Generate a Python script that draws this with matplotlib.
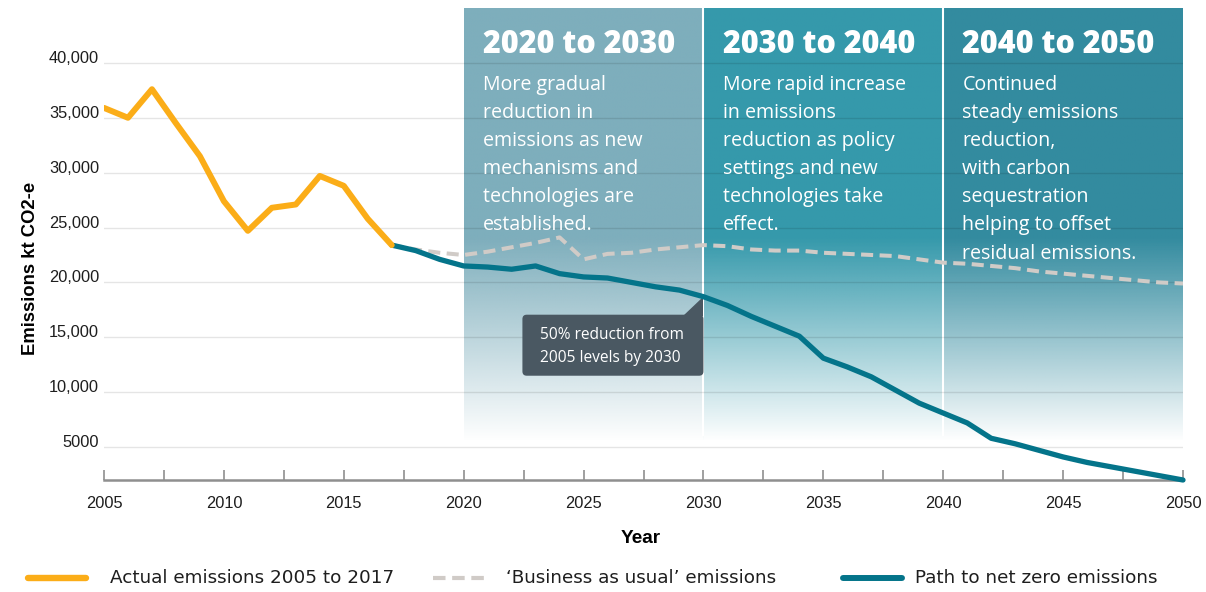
import numpy as np
import matplotlib
matplotlib.use("Agg")
import matplotlib.pyplot as plt
from matplotlib.colors import to_rgb
from matplotlib.lines import Line2D
from matplotlib.patches import FancyBboxPatch, Polygon

# emissions, kt CO2-e
actual_years = list(range(2005, 2018))
actual = [35900, 35000, 37600, 34500, 31500, 27400, 24700, 26800, 27100,
          29700, 28800, 25800, 23400]

future_years = list(range(2017, 2051))
bau = [23400, 23000, 22700, 22500, 22800, 23200, 23600, 24100, 22100, 22600,
       22700, 23000, 23200, 23400, 23300, 23000, 22900, 22900, 22700, 22600,
       22500, 22400, 22100, 21800, 21700, 21500, 21300, 21000, 20800, 20600,
       20400, 20200, 20000, 19900]
net_zero = [23400, 22900, 22100, 21500, 21400, 21200, 21500, 20800, 20500, 20400,
            20000, 19600, 19300, 18700, 17900, 16900, 16000, 15100, 13100, 12300,
            11400, 10200, 9000, 8100, 7200, 5800, 5300, 4700, 4100, 3600,
            3200, 2800, 2400, 2000]

periods = [(2020, 2030), (2030, 2040), (2040, 2050)]
period_titles = ["2020 to 2030", "2030 to 2040", "2040 to 2050"]
period_notes = [
    "More gradual\nreduction in\nemissions as new\nmechanisms and\ntechnologies are\nestablished.",
    "More rapid increase\nin emissions\nreduction as policy\nsettings and new\ntechnologies take\neffect.",
    "Continued\nsteady emissions\nreduction,\nwith carbon\nsequestration\nhelping to offset\nresidual emissions.",
]

y_ticks = [5000, 10000, 15000, 20000, 25000, 30000, 35000, 40000]
y_tick_labels = ["5000", "10,000", "15,000", "20,000", "25,000", "30,000", "35,000", "40,000"]
x_ticks = np.arange(2005, 2050.1, 2.5)
x_tick_labels = [str(int(x)) if x % 5 == 0 else "" for x in x_ticks]

legend_labels = ["Actual emissions 2005 to 2017", "\u2018Business as usual\u2019 emissions",
                 "Path to net zero emissions"]
callout_text = "50% reduction from\n2005 levels by 2030"

ORANGE = "#fbad18"
TEAL = "#04748a"
GREY = "#d0cbc7"
BOX = "#4a5862"
band_colors = ["#7eaebc", "#3599ab", "#338b9f"]

W, H = 1206, 592
YMIN, YMAX = 2000, 45000

fig = plt.figure(figsize=(W / 100, H / 100), dpi=100)
ax = fig.add_axes([104 / W, 1 - 480 / H, 1079 / W, 472 / H])

# shaded periods fading to white towards the bottom
yy = np.linspace(YMIN, YMAX, 500)
fade = np.clip((yy - 5500) / (24000 - 5500), 0, 1)
for (x0, x1), c in zip(periods, band_colors):
    rgba = np.zeros((len(yy), 1, 4))
    rgba[..., :3] = to_rgb(c)
    rgba[..., 3] = fade[:, None]
    ax.imshow(rgba, extent=(x0, x1, YMIN, YMAX), origin="lower", aspect="auto",
              interpolation="bilinear", zorder=0)
ax.vlines([2030, 2040], 6000, YMAX, colors="white", lw=1.5, zorder=1)

ax.plot(future_years, bau, color=GREY, lw=2.9, dashes=(3.0, 1.6), zorder=4)
ax.plot(future_years, net_zero, color=TEAL, lw=3.8, solid_joinstyle="round",
        solid_capstyle="round", zorder=5, clip_on=False)
ax.plot(actual_years, actual, color=ORANGE, lw=4.3, solid_joinstyle="round",
        solid_capstyle="round", zorder=6)

ax.set_xlim(2005, 2050)
ax.set_ylim(YMIN, YMAX)

for (x0, x1), title, note in zip(periods, period_titles, period_notes):
    ax.text(x0 + 0.8, 40900, title, color="white", fontsize=22, fontweight=800,
            family=["Open Sans", "DejaVu Sans"], va="baseline", ha="left", zorder=7)
    ax.text(x0 + 0.8, 38900, note, color="white", fontsize=14.1,
            family=["Open Sans", "DejaVu Sans"], va="top", ha="left",
            linespacing=1.54, zorder=7)

# callout at 2030
i2030 = future_years.index(2030)
box = FancyBboxPatch((2022.45, 11500), 2030 - 2022.45, 5560,
                     boxstyle="round,pad=0,rounding_size=0.18", mutation_aspect=2186,
                     fc=BOX, ec="none", zorder=3)
ax.add_patch(box)
ax.add_patch(Polygon([(2029.15, 16900), (2030, 16900), (2030, net_zero[i2030])],
                     closed=True, fc=BOX, ec="none", zorder=3))
ax.text(2023.17, 15930, callout_text, color="white", fontsize=11.2,
        family=["Open Sans", "DejaVu Sans"], va="top", ha="left",
        linespacing=1.6, zorder=7)

# axes styling
for s in ["left", "right", "top"]:
    ax.spines[s].set_visible(False)
ax.spines["bottom"].set_color("#8f8f8f")
ax.spines["bottom"].set_linewidth(1.8)

ax.set_yticks(y_ticks)
ax.set_yticklabels(y_tick_labels)
ax.set_xticks(x_ticks)
ax.set_xticklabels(x_tick_labels)
ax.tick_params(axis="y", length=0, pad=3.6, labelsize=11.8, labelcolor="#1e1e1e")
ax.tick_params(axis="x", direction="in", length=7, width=1.2, color="#8f8f8f",
               pad=11.5, labelsize=11.8, labelcolor="#1e1e1e")
for lbl in ax.get_yticklabels() + ax.get_xticklabels():
    lbl.set_family("Liberation Sans")
for lbl in ax.get_yticklabels():
    lbl.set_verticalalignment("baseline")
ax.yaxis.grid(True, color="k", alpha=0.1, lw=1)
ax.set_axisbelow("line")

fig.text(30.5 / W, 1 - 268 / H, "Emissions kt CO2-e", rotation=90, ha="center",
         va="center", fontsize=13.3, fontweight="bold", family="Liberation Sans")
fig.text(641 / W, 1 - 543.3 / H, "Year", ha="center", va="baseline",
         fontsize=13.7, fontweight="bold", family="Liberation Sans")

# legend, drawn by hand to match the original spacing
leg_y = 1 - 577.7 / H
handles = [
    ((28, 86), dict(color=ORANGE, lw=4.6, solid_capstyle="round")),
    ((433, 485), dict(color=GREY, lw=3.0, dashes=(3.0, 1.6))),
    ((843, 902), dict(color=TEAL, lw=4.3, solid_capstyle="round")),
]
text_x = [110, 506, 915]
for ((x0, x1), style), tx, label in zip(handles, text_x, legend_labels):
    fig.add_artist(Line2D([x0 / W, x1 / W], [leg_y, leg_y], transform=fig.transFigure, **style))
    fig.text(tx / W, 1 - 583.3 / H, label, ha="left", va="baseline", fontsize=13.2,
             color="#1e1e1e")

fig.savefig("out.png", dpi=100)
